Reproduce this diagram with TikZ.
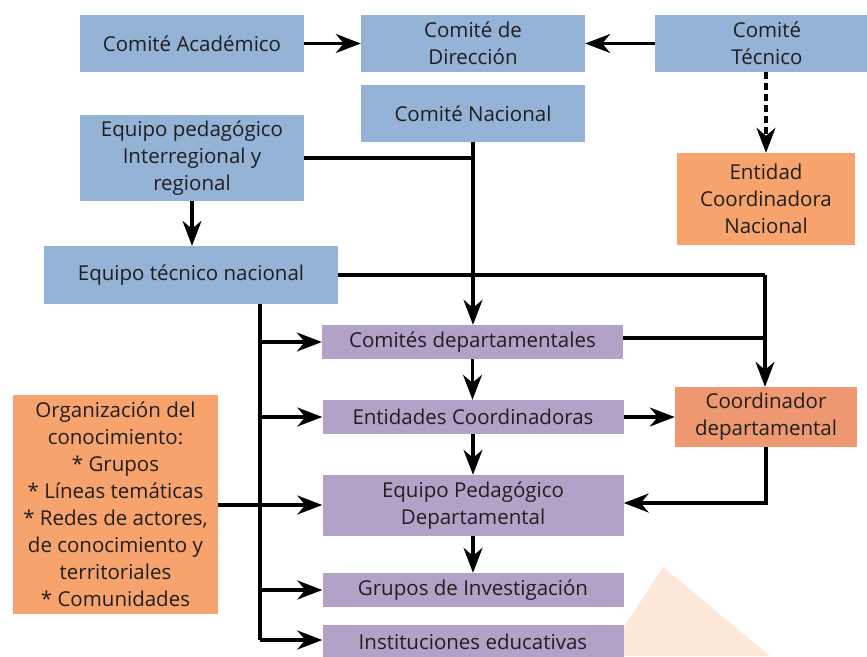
\documentclass[tikz,border=0pt]{standalone}
\usepackage{fontspec}
\setmainfont{Open Sans}
\usetikzlibrary{arrows.meta}
\definecolor{bluebox}{RGB}{149,179,215}
\definecolor{purplebox}{RGB}{179,162,199}
\definecolor{orangebox}{RGB}{247,163,110}
\definecolor{redorange}{RGB}{237,152,112}
\definecolor{watermark}{RGB}{253,232,218}
\begin{document}
\begin{tikzpicture}[x=1pt,y=-1pt,
  box/.style={rectangle, inner sep=0pt, align=center, text=black!88,
    font=\fontsize{20.5}{27}\selectfont},
  bluenode/.style={box, fill=bluebox},
  purplenode/.style={box, fill=purplebox},
  orangenode/.style={box, fill=orangebox},
  rednode/.style={box, fill=redorange},
  conn/.style={line width=3.2pt, black},
  arr/.style={conn, -{Stealth[length=25pt,width=19pt,inset=8pt]}},
  dasharr/.style={arr, dash pattern=on 7pt off 4pt}]
\useasboundingbox (0,0) rectangle (867,656);
\fill[watermark] (663,567) -- (605,656) -- (770,656) -- cycle;

\node[bluenode, minimum width=224pt, minimum height=57pt] (ca) at (192,43.5) {Comité Académico};
\node[bluenode, minimum width=224pt, minimum height=57pt] (cd) at (473,43.5) {Comité de\\Dirección};
\node[bluenode, minimum width=224pt, minimum height=57pt] (ct) at (767,43.5) {Comité\\Técnico};
\node[bluenode, minimum width=224pt, minimum height=57pt] (cn) at (473,113.5) {Comité Nacional};
\node[bluenode, minimum width=224pt, minimum height=86pt] (ep) at (192,158) {Equipo pedagógico\\Interregional y\\regional};
\node[bluenode, minimum width=294pt, minimum height=58pt] (et) at (191,275) {Equipo técnico nacional};
\node[orangenode, minimum width=178pt, minimum height=92pt] (ecn) at (766,199) {Entidad\\Coordinadora\\Nacional};
\node[purplenode, minimum width=301pt, minimum height=34pt] (cdep) at (472.5,342) {Comités departamentales};
\node[purplenode, minimum width=301pt, minimum height=34pt] (ec) at (473,417) {Entidades Coordinadoras};
\node[purplenode, minimum width=301pt, minimum height=61pt] (epd) at (473,505.5) {Equipo Pedagógico\\Departamental};
\node[purplenode, minimum width=301pt, minimum height=34pt] (gi) at (473,590) {Grupos de Investigación};
\node[purplenode, minimum width=301pt, minimum height=34pt] (ie) at (473,642) {Instituciones educativas};
\node[rednode, minimum width=182pt, minimum height=60pt] (cdp) at (766,417) {Coordinador\\departamental};
\node[orangenode, minimum width=205pt, minimum height=219pt] (oc) at (115.5,504.5) {Organización del\\conocimiento:\\* Grupos\\* Líneas temáticas\\* Redes de actores,\\de conocimiento y\\territoriales\\* Comunidades};

% coordinates for junctions
\coordinate (j1) at (cn.south |- ep.east);
\coordinate (j2) at (765,275);
\coordinate (vx) at (260,304);
\coordinate (vend) at (260,640);

% top row
\draw[arr] (ca.east) -- (cd.west);
\draw[arr] (ct.west |- cd.east) -- (cd.east);
\draw[dasharr] (ct.south -| ecn.north) -- (ecn.north);

% pedagógico to técnico nacional
\draw[arr] (ep.south) -- (ep.south |- et.north);

% Comité Nacional down to Comités departamentales
\draw[conn] (ep.east) -- (j1);
\draw[arr] (cn.south) -- (cn.south |- cdep.north);

% Equipo técnico nacional to Coordinador departamental
\draw[conn] (et.east) -- (j2);
\draw[arr] (j2) -- (j2 |- cdp.north);
\draw[conn] (cdep.east |- 0,338) -- (j2 |- 0,338);

% vertical bus from Equipo técnico nacional
\draw[conn] (vx) -- (vend);
\draw[arr] (260,342) -- (cdep.west);
\draw[arr] (260,417) -- (ec.west);
\draw[arr] (260,505) -- (epd.west |- 0,505);
\draw[arr] (260,590) -- (gi.west);
\draw[arr] (vend) -- (vend -| ie.west);
\draw[conn] (oc.east |- 0,505) -- (260,505);

% purple chain
\draw[arr] (cdep.south) -- (cdep.south |- ec.north);
\draw[arr] (ec.south) -- (ec.south |- epd.north);
\draw[arr] (epd.south) -- (epd.south |- gi.north);

% Entidades Coordinadoras to Coordinador departamental
\draw[arr] (ec.east) -- (cdp.west);
\draw[arr] (cdp.south) -- (766,503) -- (epd.east |- 0,503);
\end{tikzpicture}
\end{document}
